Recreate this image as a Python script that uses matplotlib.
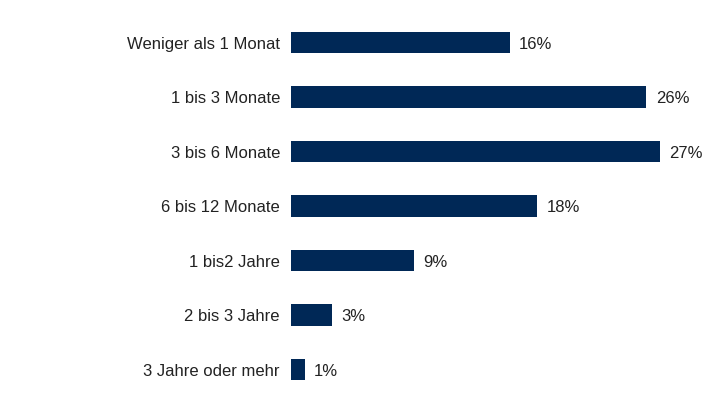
import matplotlib.pyplot as plt

kategorien = ["Weniger als 1 Monat", "1 bis 3 Monate", "3 bis 6 Monate",
              "6 bis 12 Monate", "1 bis2 Jahre", "2 bis 3 Jahre",
              "3 Jahre oder mehr"]
anteile = [16, 26, 27, 18, 9, 3, 1]

plt.rcParams['font.family'] = ['Liberation Sans', 'DejaVu Sans']

fig = plt.figure(figsize=(7.25, 4.13), dpi=100)
ax = fig.add_axes([0.4014, 0.039, 0.571, 0.924])

pos = range(len(kategorien))
ax.barh(pos, anteile, height=0.39, color='#002856')

# Werte rechts neben den Balken
for y, v in zip(pos, anteile):
    ax.text(v + 0.7, y + 0.03, f"{v}%", va='center', ha='left', fontsize=12, color='#222222')

ax.set_yticks(list(pos))
ax.set_yticklabels(kategorien, fontsize=12, color='#222222')
ax.tick_params(axis='y', length=0, pad=8)
ax.set_xticks([])
ax.set_xlim(0, 30.3)
ax.set_ylim(6.5, -0.5)
for s in ax.spines.values():
    s.set_visible(False)

fig.savefig("out.png", dpi=100)
